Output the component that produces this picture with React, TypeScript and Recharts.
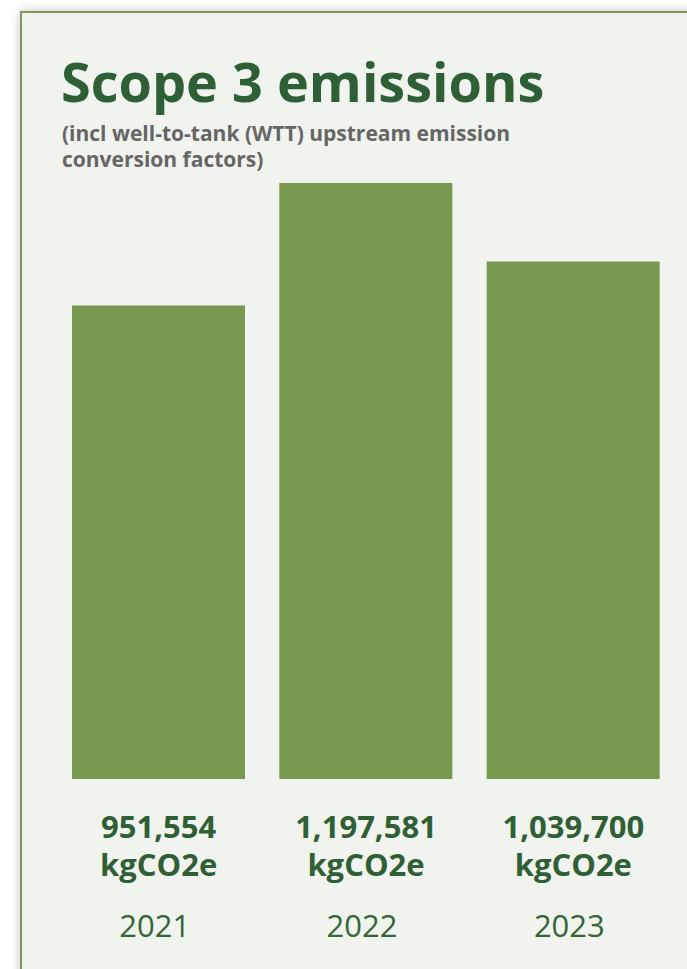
import { BarChart, Bar, XAxis, YAxis } from 'recharts';

const years = ['2021', '2022', '2023'];
const emissions = [951554, 1197581, 1039700];
const unitLabel = 'kgCO2e';

const title = 'Scope 3 emissions';
const subtitleLines = ['(incl well-to-tank (WTT) upstream emission', 'conversion factors)'];

const BAR_COLOR = '#789850';
const DARK_GREEN = '#2f5f35';
const CARD_BG = '#f1f3ee';
const FONT = '"Open Sans", "Noto Sans", sans-serif';

const data = years.map((year, i) => ({ year, value: emissions[i] }));

function YearTick(props: any) {
  const { x, y, index } = props;
  const value = emissions[index];
  return (
    <g transform={`translate(${x},${y})`}>
      <text x={0} y={59} textAnchor="middle" fontFamily={FONT} fontWeight={700} fontSize={31} fill={DARK_GREEN}>
        {value.toLocaleString('en-US')}
      </text>
      <text x={0} y={97} textAnchor="middle" fontFamily={FONT} fontWeight={700} fontSize={31} fill={DARK_GREEN}>
        {unitLabel}
      </text>
      <text x={-4} y={158} textAnchor="middle" fontFamily={FONT} fontWeight={400} fontSize={31} fill="#356638">
        {years[index]}
      </text>
    </g>
  );
}

export default function App() {
  return (
    <div style={{ position: 'absolute', left: 0, top: 0, width: 687, height: 969, overflow: 'hidden', background: '#fff' }}>
      {/* card */}
      <div
        style={{
          position: 'absolute',
          left: 20,
          top: 11,
          width: 720,
          height: 1000,
          background: CARD_BG,
          borderLeft: '2px solid #7a9a55',
          borderTop: '2px solid #7a9a55',
          boxShadow: '0 0 10px rgba(0,0,0,0.22)',
        }}
      />

      <svg width={687} height={180} style={{ position: 'absolute', left: 0, top: 0 }}>
        <text x={61} y={102} fontFamily={FONT} fontWeight={700} fontSize={54} fill={DARK_GREEN}>
          {title}
        </text>
        {subtitleLines.map((line, i) => (
          <text key={line} x={62} y={141 + i * 26} fontFamily={FONT} fontWeight={700} fontSize={21} fill="#666666">
            {line}
          </text>
        ))}
      </svg>

      <div style={{ position: 'absolute', left: 0, top: 0 }}>
        <BarChart width={687} height={969} data={data} margin={{ top: 183, right: 10, bottom: 20, left: 55 }}>
          <XAxis
            dataKey="year"
            axisLine={false}
            tickLine={false}
            tickSize={0}
            tickMargin={0}
            height={170}
            interval={0}
            tick={<YearTick />}
          />
          <YAxis hide domain={[0, 'dataMax']} />
          <Bar dataKey="value" fill={BAR_COLOR} barSize={173} isAnimationActive={false} />
        </BarChart>
      </div>
    </div>
  );
}
